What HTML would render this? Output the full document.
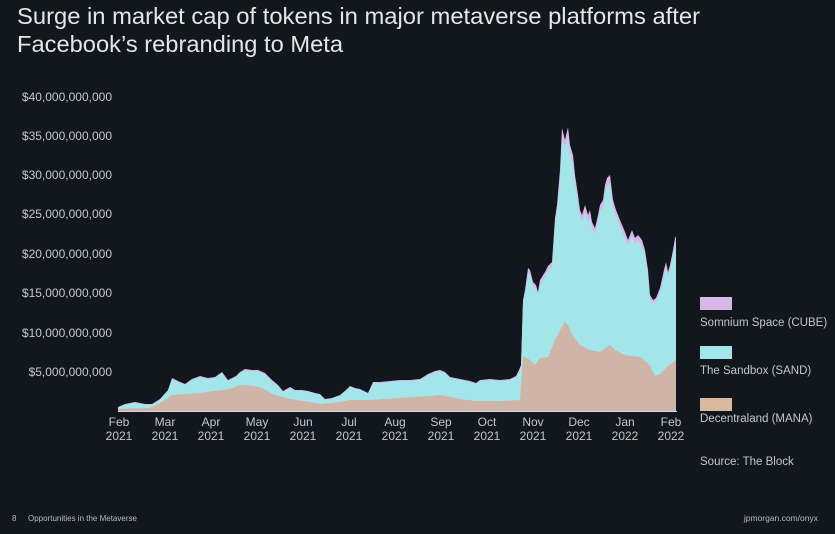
<!DOCTYPE html>
<html><head><meta charset="utf-8"><style>
html,body{margin:0;padding:0;background:#12161d;}
svg{display:block;font-family:"Liberation Sans",sans-serif;}
</style></head><body>
<svg width="835" height="534" viewBox="0 0 835 534" xmlns="http://www.w3.org/2000/svg">
<rect width="835" height="534" fill="#12161d"/>
<text x="17" y="24" font-size="23" fill="#e4e6e8" textLength="683" lengthAdjust="spacingAndGlyphs">Surge in market cap of tokens in major metaverse platforms after</text>
<text x="17" y="52" font-size="23" fill="#e4e6e8" textLength="326" lengthAdjust="spacingAndGlyphs">Facebook’s rebranding to Meta</text>
<g font-size="12" fill="#c4c8ce" text-anchor="end">
<text x="112" y="101">$40,000,000,000</text>
<text x="112" y="140">$35,000,000,000</text>
<text x="112" y="179">$30,000,000,000</text>
<text x="112" y="218">$25,000,000,000</text>
<text x="112" y="258">$20,000,000,000</text>
<text x="112" y="297">$15,000,000,000</text>
<text x="112" y="337">$10,000,000,000</text>
<text x="112" y="376">$5,000,000,000</text>
</g>
<g id="areas"></g>
<line x1="118" y1="411.5" x2="677" y2="411.5" stroke="#d8d8d8" stroke-width="1"/>
<g font-size="12" fill="#c4c8ce" text-anchor="middle" id="xt"></g>
<rect x="700" y="297" width="32" height="13" fill="#d9b6e8"/>
<text x="700" y="326" font-size="11.5" fill="#c4c8ce">Somnium Space (CUBE)</text>
<rect x="700" y="346" width="32" height="13" fill="#a3e6ea"/>
<text x="700" y="374" font-size="11.5" fill="#c4c8ce">The Sandbox (SAND)</text>
<rect x="700" y="398" width="32" height="13" fill="#d8b9a0"/>
<text x="700" y="422" font-size="11.5" fill="#c4c8ce">Decentraland (MANA)</text>
<text x="700" y="465" font-size="11.5" fill="#c4c8ce">Source: The Block</text>
<text x="12" y="521" font-size="8" fill="#b8bcc2">8</text>
<text x="28" y="521" font-size="8" fill="#b8bcc2">Opportunities in the Metaverse</text>
<text x="818" y="521" font-size="8.5" fill="#b8bcc2" text-anchor="end">jpmorgan.com/onyx</text>
</svg>
<script>
var T=[[118,407],[125,404],[135,402],[145,404],[152,404],[160,399],[168,390],[172,378],[178,381],[185,384],[192,379],[200,376],[208,378],[215,377],[222,372],[228,380],[236,376],[240,372],[245,369],[252,370],[258,370],[265,373],[272,380],[278,385],[283,391],[290,387],[295,390],[302,390],[308,391],[315,393],[320,394],[325,399],[332,398],[340,395],[346,390],[350,386],[355,388],[360,389],[368,393],[373,382],[380,382],[390,381],[400,380],[410,380],[420,379],[428,374],[435,371],[440,370],[445,372],[450,377],[460,379],[470,381],[476,383],[480,380],[490,379],[500,380],[510,379],[516,376],[519,370],[521,365],[523,300],[525,290],[528,268],[530,270],[533,282],[536,285],[538,292],[540,280],[545,272],[548,266],[552,262],[555,218],[557,205],[560,170],[562,128],[565,140],[568,127],[570,145],[573,155],[575,175],[578,195],[580,210],[582,215],[585,205],[588,215],[590,210],[592,222],[595,228],[598,215],[600,205],[603,200],[605,185],[607,178],[610,175],[613,200],[616,210],[620,220],[625,232],[628,240],[632,230],[635,238],[638,235],[642,240],[645,250],[648,270],[650,295],[653,300],[656,298],[660,288],[664,270],[666,262],[668,272],[670,265],[673,250],[675,238],[676,236]];
var M=[[118,409],[150,408],[165,400],[172,395],[200,393],[230,389],[240,385],[255,386],[262,388],[275,395],[290,399],[310,402],[320,404],[340,402],[350,400],[370,400],[400,398],[430,396],[440,395],[460,399],[476,401],[500,401],[520,400],[523,356],[530,360],[535,365],[540,358],[548,357],[555,340],[560,330],[563,325],[565,322],[568,325],[572,335],[580,345],[590,350],[600,352],[610,345],[615,350],[625,355],[640,357],[650,365],[655,376],[660,374],[668,366],[676,360]];
var B=411;
function p(pts){return pts.map(function(a,i){return (i?'L':'M')+a[0]+','+a[1];}).join('')+'L676,'+B+'L118,'+B+'Z';}
var S=T.map(function(a){return [a[0],a[1]+Math.max(0.8,(B-a[1])*0.035)];});
var g=document.getElementById('areas');
g.innerHTML='<path d="'+p(T)+'" fill="#d9b6e8"/><path d="'+p(S)+'" fill="#a3e6ea"/><path d="'+p(M)+'" fill="#cfb5a8"/>';
var mo=['Feb','Mar','Apr','May','Jun','Jul','Aug','Sep','Oct','Nov','Dec','Jan','Feb'];
var h='';for(var i=0;i<13;i++){var x=119+i*46;var y=i>=11?2022:2021;h+='<text x="'+x+'" y="426">'+mo[i]+'</text><text x="'+x+'" y="440">'+y+'</text>';}
document.getElementById('xt').innerHTML=h;
</script>
</body></html>
